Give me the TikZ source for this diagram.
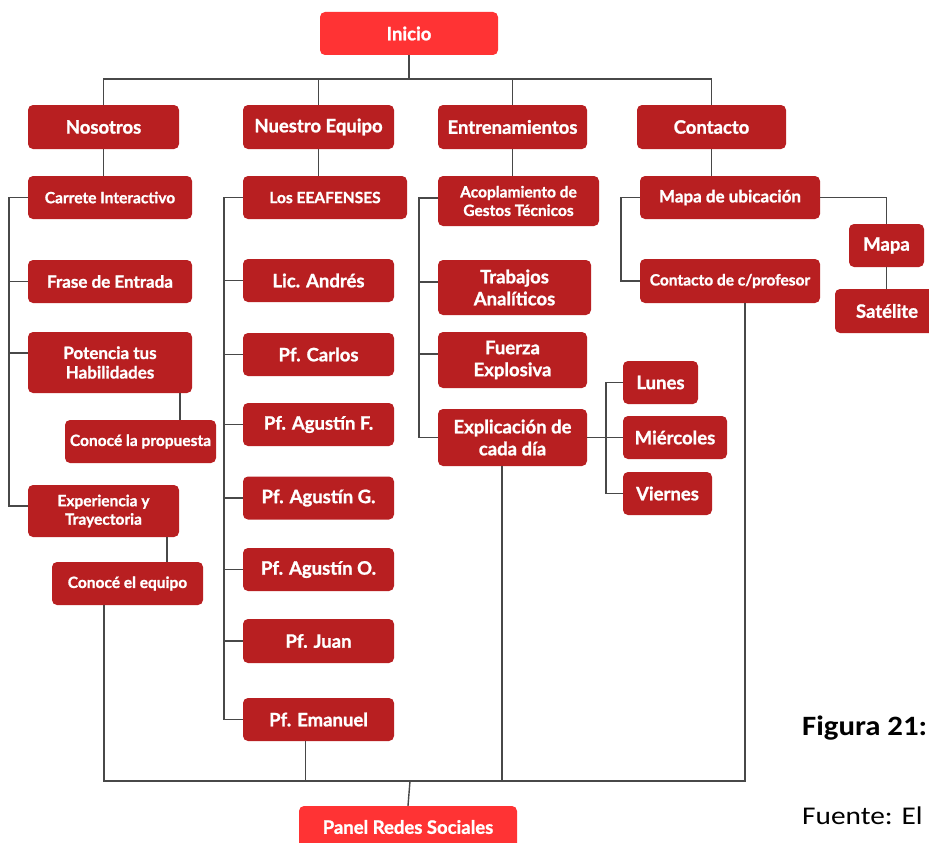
\documentclass[tikz,border=0pt]{standalone}
\usepackage{fontspec}
\setmainfont{Lato}[BoldFeatures={FakeBold=1.2}]
\newfontfamily\capfont{Carlito}
\definecolor{dred}{RGB}{184,31,33}
\definecolor{bred}{RGB}{255,51,52}
\definecolor{lnc}{RGB}{72,72,72}
\tikzset{
  bx/.style={rounded corners=5pt, fill=dred, text=white, inner sep=0pt, align=center},
  ta/.style={font=\fontsize{18.5}{22}\selectfont\bfseries},
  tb/.style={font=\fontsize{17}{19.5}\selectfont\bfseries},
  tc/.style={font=\fontsize{15.5}{18.5}\selectfont\bfseries},
  conn/.style={draw=lnc, line width=1.4pt},
}
\begin{document}
\begin{tikzpicture}[x=1pt,y=-1pt]
\useasboundingbox (0,0) rectangle (929,843);
\clip (0,0) rectangle (929,843);
% top
\node[bx,ta,fill=bred,minimum width=178pt,minimum height=43pt] (ini) at (409,33.5) {Inicio};
\node[bx,ta,minimum width=151pt,minimum height=44pt] (nos) at (103.5,127) {Nosotros};
\node[bx,ta,minimum width=151pt,minimum height=44pt] (neq) at (318.5,127) {Nuestro Equipo};
\node[bx,ta,minimum width=149pt,minimum height=44pt] (ent) at (512.5,127) {Entrenamientos};
\node[bx,ta,minimum width=149pt,minimum height=44pt] (con) at (711.5,127) {Contacto};
% Nosotros column
\node[bx,tc,minimum width=164pt,minimum height=43pt] (car) at (110,197.5) {Carrete Interactivo};
\node[bx,tb,minimum width=164pt,minimum height=43pt] (fra) at (110,281.5) {Frase de Entrada};
\node[bx,tb,minimum width=164pt,minimum height=61pt] (pot) at (110,362.5) {Potencia tus\\Habilidades};
\node[bx,tc,minimum width=151pt,minimum height=43pt] (cpr) at (140.5,441.5) {Conocé la propuesta};
\node[bx,tc,minimum width=151pt,minimum height=52pt] (exp) at (103.5,511) {Experiencia y\\Trayectoria};
\node[bx,tc,minimum width=151pt,minimum height=43pt] (ceq) at (127.5,583.5) {Conocé el equipo};
% Nuestro Equipo column
\node[bx,tc,minimum width=164pt,minimum height=43pt] (lee) at (325,197.5) {Los EEAFENSES};
\node[bx,ta,minimum width=151pt,minimum height=43pt] (and) at (318.5,280.5) {Lic. Andrés};
\node[bx,ta,minimum width=151pt,minimum height=43pt] (pfc) at (318.5,354.5) {Pf. Carlos};
\node[bx,ta,minimum width=151pt,minimum height=43pt] (agf) at (318.5,424.5) {Pf. Agustín F.};
\node[bx,ta,minimum width=151pt,minimum height=43pt] (agg) at (318.5,498) {Pf. Agustín G.};
\node[bx,ta,minimum width=151pt,minimum height=43pt] (ago) at (318.5,569.5) {Pf. Agustín O.};
\node[bx,ta,minimum width=151pt,minimum height=44pt] (jua) at (318.5,641) {Pf. Juan};
\node[bx,ta,minimum width=151pt,minimum height=43pt] (ema) at (318.5,719.5) {Pf. Emanuel};
% Entrenamientos column
\node[bx,tc,minimum width=161pt,minimum height=50pt] (aco) at (518.5,201) {Acoplamiento de\\Gestos Técnicos};
\node[bx,ta,minimum width=153pt,minimum height=55pt] (tra) at (514.5,287.5) {Trabajos\\Analíticos};
\node[bx,ta,minimum width=149pt,minimum height=56pt] (fue) at (512.5,360) {Fuerza\\Explosiva};
\node[bx,ta,minimum width=149pt,minimum height=57pt] (exd) at (512.5,437.5) {Explicación de\\cada día};
\node[bx,ta,minimum width=75pt,minimum height=43pt] (lun) at (660.5,382.5) {Lunes};
\node[bx,ta,minimum width=104pt,minimum height=43pt] (mie) at (675,437.5) {Miércoles};
\node[bx,ta,minimum width=89pt,minimum height=43pt] (vie) at (667.5,493.5) {Viernes};
% Contacto column
\node[bx,tb,minimum width=180pt,minimum height=43pt] (mub) at (730,197.5) {Mapa de ubicación};
\node[bx,tc,minimum width=180pt,minimum height=44pt] (cdp) at (730,281) {Contacto de c/profesor};
\node[bx,ta,minimum width=75pt,minimum height=43pt] (map) at (886.5,245.5) {Mapa};
\node[bx,ta,minimum width=104pt,minimum height=44pt] (sat) at (887,311) {Satélite};
% bottom
\node[bx,ta,fill=bred,minimum width=218pt,minimum height=42pt] (pan) at (408,827) {Panel Redes Sociales};
% caption text
\node[anchor=base west,inner sep=0pt] (fig) at (802,735) {\capfont\bfseries\fontsize{28}{28}\selectfont\scalebox{1.1}[1]{Figura 21:}};
\node[anchor=base west,inner sep=0pt] (fue2) at (802,824) {\capfont\fontsize{25.5}{25.5}\selectfont\scalebox{1.15}[1]{Fuente: El}};
% connectors top
\coordinate (tb) at (409,79);
\coordinate (bb) at (410,781);
\draw[conn] (ini.south) -- (tb);
\draw[conn] (nos.north) |- (tb);
\draw[conn] (con.north) |- (tb);
\draw[conn] (neq.north) -- (neq.north |- tb);
\draw[conn] (ent.north) -- (ent.north |- tb);
% Nosotros
\draw[conn] (nos.south) -- (nos.south |- car.north);
\draw[conn] (car.west) -- ++(-19,0) |- ([yshift=5pt]exp.west);
\draw[conn] (fra.west) -- ++(-19,0);
\draw[conn] ([yshift=9.5pt]pot.west) -- ++(-19,0);
\draw[conn] ([xshift=70pt]pot.south) -- ([xshift=70pt]pot.south |- cpr.north);
\draw[conn] ([xshift=63.5pt]exp.south) -- ([xshift=63.5pt]exp.south |- ceq.north);
% Nuestro Equipo
\draw[conn] (neq.south) -- (neq.south |- lee.north);
\draw[conn] (lee.west) -- ++(-19,0) |- (ema.west);
\foreach \n in {and,pfc,agf,agg,ago,jua} \draw[conn] (\n.west) -- ++(-19,0);
% Entrenamientos
\draw[conn] (ent.south) -- (ent.south |- aco.north);
\draw[conn] ([yshift=3pt]aco.west) -- ++(-19,0) |- (exd.west);
\draw[conn] ([yshift=5.5pt]tra.west) -- ++(-19,0);
\draw[conn] ([yshift=6pt]fue.west) -- ++(-19,0);
\draw[conn] (exd.east) -- (mie.west);
\draw[conn] (lun.west) -- ++(-17,0) |- (vie.west);
% Contacto
\draw[conn] (con.south) -- (con.south |- mub.north);
\draw[conn] (mub.west) -- ++(-19,0) |- (cdp.west);
\draw[conn] (mub.east) -| (map.north);
\draw[conn] (map.south) -- (map.south |- sat.north);
% bottom bus
\draw[conn] ([xshift=-23.5pt]ceq.south) |- (bb);
\draw[conn] ([xshift=15pt]cdp.south) |- (bb);
\draw[conn] ([xshift=-13pt]ema.south) -- ([xshift=-13pt]ema.south |- bb);
\draw[conn] ([xshift=-10.5pt]exd.south) -- ([xshift=-10.5pt]exd.south |- bb);
\draw[conn] (bb) -- (pan.north);
\end{tikzpicture}
\end{document}
